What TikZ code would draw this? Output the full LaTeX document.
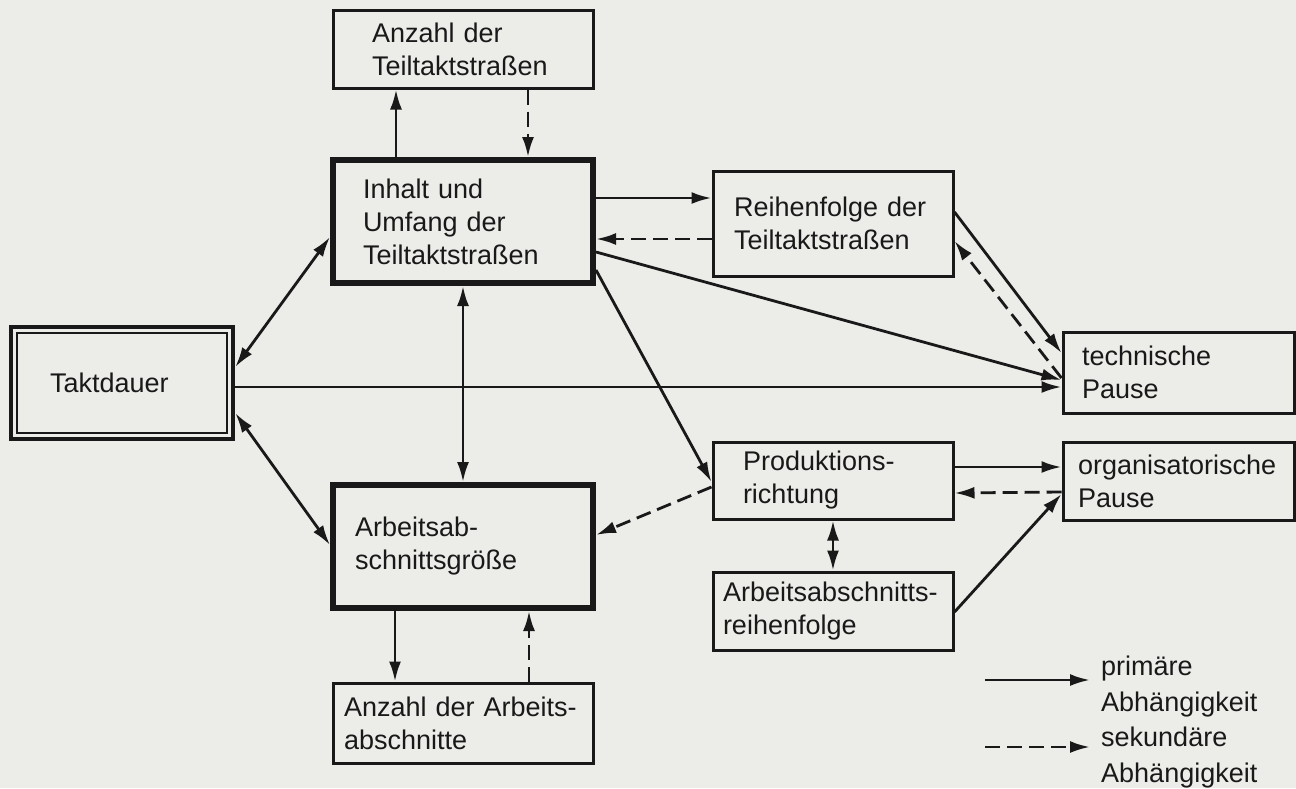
\documentclass[tikz,border=0pt]{standalone}
\usepackage{fontspec}
\setmainfont{Liberation Sans}
\usetikzlibrary{arrows.meta,calc}
\definecolor{bg}{RGB}{236,236,233}
\definecolor{ink}{RGB}{25,25,25}
\begin{document}
\begin{tikzpicture}[x=1pt,y=-1pt,
  every node/.style={font=\fontsize{27}{33}\selectfont, text=ink},
  box/.style={draw=ink, line width=3pt, rectangle, inner ysep=0pt, align=left},
  thickbox/.style={box, line width=6pt},
  pri/.style={draw=ink, line width=2.8pt, -{Latex[length=20pt,width=12pt]}},
  sec/.style={pri, dash pattern=on 15pt off 7pt},
  both/.style={draw=ink, line width=2.8pt, {Latex[length=20pt,width=12pt]}-{Latex[length=20pt,width=12pt]}},
  lbl/.style={inner sep=0pt, anchor=base west}
]
\fill[bg] (0,0) rectangle (1296,788);
\useasboundingbox (0,0) rectangle (1296,788);

% boxes
\node[box, minimum width=260pt, minimum height=78pt, text width=182pt, inner xsep=39pt] (A) at (463,49) {Anzahl der\\Teiltaktstraßen};
\node[thickbox, minimum width=260pt, minimum height=123pt, text width=200pt, inner xsep=30pt] (I) at (463,221.5) {Inhalt und\\Umfang der\\Teiltaktstraßen};
\node[box, minimum width=240pt, minimum height=105pt, text width=198pt, inner xsep=21pt] (R) at (833,223.5) {Reihenfolge der\\Teiltaktstraßen};
\node[box, minimum width=231pt, minimum height=81pt, text width=193pt, inner xsep=19pt] (T) at (1178.5,372.5) {technische\\Pause};
\node[box, minimum width=231pt, minimum height=78pt, text width=201pt, inner xsep=15pt] (O) at (1178.5,481) {organisatorische\\Pause};
\node[box, minimum width=240pt, minimum height=77pt, text width=180pt, inner xsep=30pt] (P) at (833,480.5) {Produktions-\\richtung};
\node[box, minimum width=240pt, minimum height=78pt, text width=220pt, inner xsep=10pt] (AR) at (833,611) {Arbeitsabschnitts-\\reihenfolge};
\node[thickbox, minimum width=260pt, minimum height=123pt, text width=216pt, inner xsep=22pt] (G) at (463,546.5) {Arbeitsab-\\schnittsgröße};
\node[box, minimum width=260pt, minimum height=80pt, text width=238pt, inner xsep=11pt] (N) at (463,723) {Anzahl der Arbeits-\\abschnitte};
\node[box, line width=4.5pt, minimum width=222pt, minimum height=112pt, text width=144pt, inner xsep=39pt] (D) at (122,383) {Taktdauer};
\draw[ink, line width=2pt] ($(D.north west)+(8.25,8.25)$) rectangle ($(D.south east)+(-8.25,-8.25)$);

% connectors
\draw[pri] ($(I.north)+(-67,0)$) -- ($(A.south)+(-67,0)$);
\draw[sec] ($(A.south)+(65,0)$) -- ($(I.north)+(65,0)$);
\draw[pri] ($(I.east)+(0,-23.5)$) -- ($(R.west)+(0,-25.5)$);
\draw[sec] ($(R.west)+(0,15.5)$) -- ($(I.east)+(0,17.5)$);
\draw[pri] ($(I.east)+(0,30.5)$) -- ($(T.west)+(0,7.5)$);
\draw[pri] ($(I.east)+(0,48.5)$) -- ($(P.west)+(0,1.5)$);
\draw[pri] ($(D.east)+(0,4)$) -- ($(T.west)+(0,14.5)$);
\draw[pri] ($(R.east)+(0,-11.5)$) -- ($(T.west)+(0,-19.5)$);
\draw[sec] ($(T.west)+(0,5.5)$) -- ($(R.east)+(0,17.5)$);
\draw[both] ($(D.east)+(0,-16)$) -- ($(I.west)+(0,15.5)$);
\draw[both] ($(D.east)+(0,30)$) -- ($(G.west)+(0,-1.5)$);
\draw[both] (I.south) -- (G.north);
\draw[sec] ($(P.west)+(0,6.5)$) -- ($(G.east)+(0,-11.5)$);
\draw[pri] ($(P.east)+(0,-13.5)$) -- ($(O.west)+(0,-14)$);
\draw[sec] ($(O.west)+(0,11)$) -- ($(P.east)+(0,12.5)$);
\draw[pri] ($(AR.east)+(0,1)$) -- ($(O.west)+(0,13)$);
\draw[both] (P.south) -- (AR.north);
\draw[pri] ($(G.south)+(-68,0)$) -- ($(N.north)+(-68,0)$);
\draw[sec] ($(N.north)+(66,0)$) -- ($(G.south)+(66,0)$);

% legend
\coordinate (l1s) at (985,680);
\coordinate (l1e) at (1090,680);
\coordinate (l2s) at (985,747);
\coordinate (l2e) at (1090,747);
\draw[pri] (l1s) -- (l1e);
\draw[sec] (l2s) -- (l2e);
\node[lbl] (lp) at (1101,675) {primäre};
\node[lbl] (la1) at (1101,711) {Abhängigkeit};
\node[lbl] (ls) at (1101,746) {sekundäre};
\node[lbl] (la2) at (1101,782) {Abhängigkeit};
\end{tikzpicture}
\end{document}
